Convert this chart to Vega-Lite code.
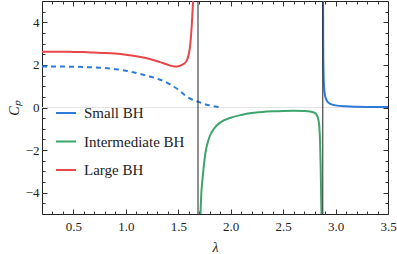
{
  "$schema": "https://vega.github.io/schema/vega-lite/v6.json",
  "width": 346,
  "height": 213,
  "autosize": {"type": "none"},
  "padding": {"left": 42, "top": 1, "right": 9, "bottom": 40},
  "background": "white",
  "config": {
    "view": {"stroke": "#222", "strokeWidth": 1},
    "font": "Liberation Serif, Times New Roman, serif",
    "axis": {"grid": false, "domain": false, "labelFont": "Liberation Serif, Times New Roman, serif", "labelFontSize": 13, "labelColor": "#222", "tickColor": "#333", "titleFont": "Liberation Serif, Times New Roman, serif", "titleFontWeight": "normal", "titleColor": "#222"},
    "legend": {"labelFont": "Liberation Serif, Times New Roman, serif"}
  },
  "datasets": {
    "curves": [
      {"series": "Large BH", "lam": 0.2, "cp": 2.62},
      {"series": "Large BH", "lam": 0.3, "cp": 2.62},
      {"series": "Large BH", "lam": 0.4, "cp": 2.62},
      {"series": "Large BH", "lam": 0.5, "cp": 2.61},
      {"series": "Large BH", "lam": 0.6, "cp": 2.6},
      {"series": "Large BH", "lam": 0.7, "cp": 2.58},
      {"series": "Large BH", "lam": 0.8, "cp": 2.56},
      {"series": "Large BH", "lam": 0.9, "cp": 2.53},
      {"series": "Large BH", "lam": 1.0, "cp": 2.48},
      {"series": "Large BH", "lam": 1.1, "cp": 2.41},
      {"series": "Large BH", "lam": 1.2, "cp": 2.31},
      {"series": "Large BH", "lam": 1.3, "cp": 2.17},
      {"series": "Large BH", "lam": 1.35, "cp": 2.09},
      {"series": "Large BH", "lam": 1.4, "cp": 2.01},
      {"series": "Large BH", "lam": 1.43, "cp": 1.96},
      {"series": "Large BH", "lam": 1.46, "cp": 1.93},
      {"series": "Large BH", "lam": 1.49, "cp": 1.93},
      {"series": "Large BH", "lam": 1.52, "cp": 1.97},
      {"series": "Large BH", "lam": 1.55, "cp": 2.04},
      {"series": "Large BH", "lam": 1.58, "cp": 2.2},
      {"series": "Large BH", "lam": 1.6, "cp": 2.5},
      {"series": "Large BH", "lam": 1.615, "cp": 3.0},
      {"series": "Large BH", "lam": 1.63, "cp": 4.0},
      {"series": "Large BH", "lam": 1.64, "cp": 4.9},
      {"series": "Large BH", "lam": 1.65, "cp": 5.8},
      {"series": "Intermediate BH", "lam": 1.71, "cp": -5.2},
      {"series": "Intermediate BH", "lam": 1.72, "cp": -4.0},
      {"series": "Intermediate BH", "lam": 1.73, "cp": -3.4},
      {"series": "Intermediate BH", "lam": 1.74, "cp": -2.9},
      {"series": "Intermediate BH", "lam": 1.76, "cp": -2.1},
      {"series": "Intermediate BH", "lam": 1.78, "cp": -1.65},
      {"series": "Intermediate BH", "lam": 1.8, "cp": -1.35},
      {"series": "Intermediate BH", "lam": 1.84, "cp": -1.0},
      {"series": "Intermediate BH", "lam": 1.9, "cp": -0.7},
      {"series": "Intermediate BH", "lam": 2.0, "cp": -0.48},
      {"series": "Intermediate BH", "lam": 2.1, "cp": -0.35},
      {"series": "Intermediate BH", "lam": 2.2, "cp": -0.26},
      {"series": "Intermediate BH", "lam": 2.3, "cp": -0.21},
      {"series": "Intermediate BH", "lam": 2.4, "cp": -0.18},
      {"series": "Intermediate BH", "lam": 2.5, "cp": -0.16},
      {"series": "Intermediate BH", "lam": 2.6, "cp": -0.15},
      {"series": "Intermediate BH", "lam": 2.7, "cp": -0.16},
      {"series": "Intermediate BH", "lam": 2.76, "cp": -0.19},
      {"series": "Intermediate BH", "lam": 2.8, "cp": -0.25},
      {"series": "Intermediate BH", "lam": 2.82, "cp": -0.35},
      {"series": "Intermediate BH", "lam": 2.835, "cp": -0.55},
      {"series": "Intermediate BH", "lam": 2.845, "cp": -0.9},
      {"series": "Intermediate BH", "lam": 2.852, "cp": -1.6},
      {"series": "Intermediate BH", "lam": 2.858, "cp": -2.8},
      {"series": "Intermediate BH", "lam": 2.866, "cp": -5.2},
      {"series": "Small BH", "lam": 2.8804, "cp": 5.2},
      {"series": "Small BH", "lam": 2.882, "cp": 3.0},
      {"series": "Small BH", "lam": 2.885, "cp": 1.7},
      {"series": "Small BH", "lam": 2.89, "cp": 1.0},
      {"series": "Small BH", "lam": 2.9, "cp": 0.55},
      {"series": "Small BH", "lam": 2.92, "cp": 0.29},
      {"series": "Small BH", "lam": 2.95, "cp": 0.17},
      {"series": "Small BH", "lam": 3.0, "cp": 0.1},
      {"series": "Small BH", "lam": 3.1, "cp": 0.055},
      {"series": "Small BH", "lam": 3.2, "cp": 0.037},
      {"series": "Small BH", "lam": 3.3, "cp": 0.028},
      {"series": "Small BH", "lam": 3.4, "cp": 0.023},
      {"series": "Small BH", "lam": 3.5, "cp": 0.019}
    ],
    "dashed": [
      {"lam": 0.2, "cp": 1.92},
      {"lam": 0.4, "cp": 1.92},
      {"lam": 0.6, "cp": 1.9},
      {"lam": 0.8, "cp": 1.85},
      {"lam": 0.9, "cp": 1.8},
      {"lam": 1.0, "cp": 1.73},
      {"lam": 1.1, "cp": 1.62},
      {"lam": 1.2, "cp": 1.5},
      {"lam": 1.3, "cp": 1.35},
      {"lam": 1.4, "cp": 1.15},
      {"lam": 1.45, "cp": 1.0},
      {"lam": 1.5, "cp": 0.84},
      {"lam": 1.55, "cp": 0.63},
      {"lam": 1.6, "cp": 0.45},
      {"lam": 1.65, "cp": 0.34},
      {"lam": 1.7, "cp": 0.25},
      {"lam": 1.75, "cp": 0.16},
      {"lam": 1.8, "cp": 0.1},
      {"lam": 1.85, "cp": 0.05},
      {"lam": 1.92, "cp": 0.0}
    ],
    "asymptotes": [{"lam": 1.688}, {"lam": 2.878}],
    "zero": [{"cp": 0}]
  },
  "layer": [
    {
      "data": {"name": "zero"},
      "mark": {"type": "rule", "color": "#e4e4e4", "strokeWidth": 1},
      "encoding": {"y": {"field": "cp", "type": "quantitative", "axis": null}}
    },
    {
      "data": {"name": "dashed"},
      "mark": {"type": "line", "color": "#2e7bdc", "strokeWidth": 2, "strokeDash": [5, 4], "clip": true, "interpolate": "monotone"},
      "encoding": {
        "x": {"field": "lam", "type": "quantitative", "scale": {"domain": [0.2, 3.5], "nice": false, "zero": false},
          "axis": {"orient": "top", "title": null, "labels": false,
            "values": [0.3,0.4,0.5,0.6,0.7,0.8,0.9,1.0,1.1,1.2,1.3,1.4,1.5,1.6,1.7,1.8,1.9,2.0,2.1,2.2,2.3,2.4,2.5,2.6,2.7,2.8,2.9,3.0,3.1,3.2,3.3,3.4],
            "tickSize": {"condition": {"test": "abs(datum.value*2 - round(datum.value*2)) < 0.01", "value": -5}, "value": -3}}},
        "y": {"field": "cp", "type": "quantitative", "scale": {"domain": [-5, 5], "nice": false},
          "axis": {"orient": "right", "title": null, "labels": false,
            "values": [-4.5,-4,-3.5,-3,-2.5,-2,-1.5,-1,-0.5,0,0.5,1,1.5,2,2.5,3,3.5,4,4.5],
            "tickSize": {"condition": {"test": "abs(datum.value/2 - round(datum.value/2)) < 0.01", "value": -5}, "value": -3}}}
      }
    },
    {
      "data": {"name": "curves"},
      "mark": {"type": "line", "strokeWidth": 2, "clip": true, "interpolate": "monotone"},
      "encoding": {
        "x": {"field": "lam", "type": "quantitative",
          "axis": {"orient": "bottom", "title": "λ", "titleFontStyle": "italic", "titleFontSize": 14, "titlePadding": 5,
            "values": [0.3,0.4,0.5,0.6,0.7,0.8,0.9,1.0,1.1,1.2,1.3,1.4,1.5,1.6,1.7,1.8,1.9,2.0,2.1,2.2,2.3,2.4,2.5,2.6,2.7,2.8,2.9,3.0,3.1,3.2,3.3,3.4,3.5],
            "format": ".1f", "labelOverlap": false, "labelPadding": 11, "labelFlush": false,
            "labelExpr": "abs(datum.value*2 - round(datum.value*2)) < 0.01 ? datum.label : ''",
            "tickSize": {"condition": {"test": "abs(datum.value*2 - round(datum.value*2)) < 0.01", "value": -5}, "value": -3}}},
        "y": {"field": "cp", "type": "quantitative",
          "axis": {"orient": "left", "title": "Cₚ", "titleFontStyle": "italic", "titleFontSize": 14, "titlePadding": 4,
            "values": [-4.5,-4,-3.5,-3,-2.5,-2,-1.5,-1,-0.5,0,0.5,1,1.5,2,2.5,3,3.5,4,4.5],
            "format": ".0f", "labelOverlap": false, "labelPadding": 8, "labelFlush": false,
            "labelExpr": "abs(datum.value/2 - round(datum.value/2)) < 0.01 ? datum.label : ''",
            "tickSize": {"condition": {"test": "abs(datum.value/2 - round(datum.value/2)) < 0.01", "value": -5}, "value": -3}}},
        "color": {"field": "series", "type": "nominal",
          "scale": {"domain": ["Small BH", "Intermediate BH", "Large BH"], "range": ["#2e7bdc", "#3da56b", "#e8474a"]},
          "legend": {"title": null, "orient": "none", "legendX": 13, "legendY": 101, "symbolType": "stroke", "symbolSize": 400, "symbolStrokeWidth": 2, "labelFont": "Liberation Serif, Times New Roman, serif", "labelFontSize": 15, "labelColor": "#222", "labelOffset": 7, "rowPadding": 9.5, "padding": 0}}
      }
    },
    {
      "data": {"name": "asymptotes"},
      "mark": {"type": "rule", "color": "#222", "strokeWidth": 1},
      "encoding": {"x": {"field": "lam", "type": "quantitative", "axis": null}}
    }
  ],
  "resolve": {"axis": {"x": "independent", "y": "independent"}}
}
